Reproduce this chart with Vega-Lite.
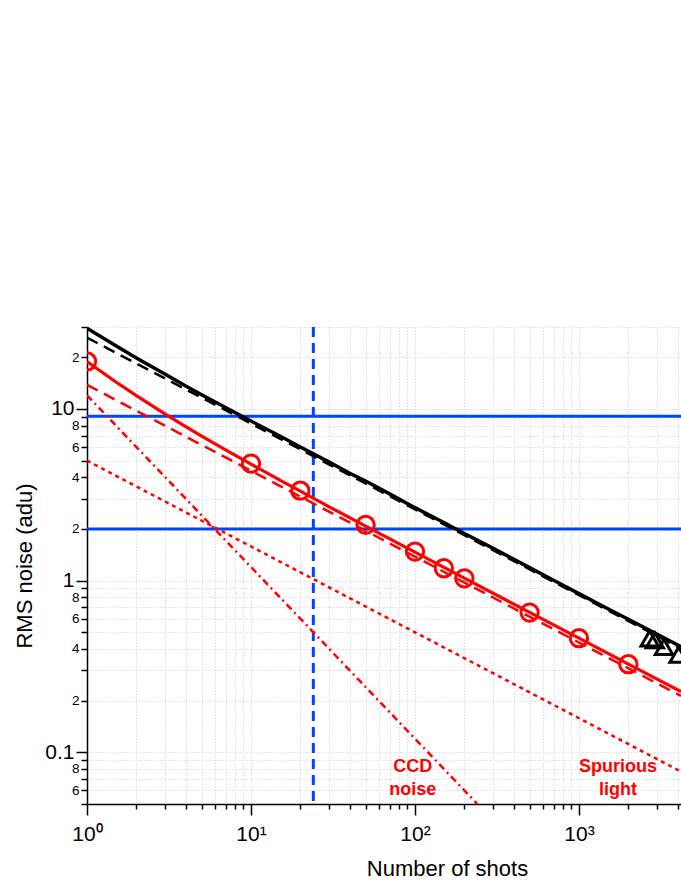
{
  "$schema": "https://vega.github.io/schema/vega-lite/v6.json",
  "width": 594,
  "height": 477,
  "autosize": "none",
  "padding": {"left": 87, "top": 327, "right": 0, "bottom": 77},
  "background": "white",
  "config": {
    "view": {"stroke": null},
    "font": "Liberation Sans",
    "axis": {"labelFont": "Liberation Sans", "titleFont": "Liberation Sans", "labelColor": "black", "titleColor": "black"}
  },
  "datasets": {
    "lines": [
      {"series": "total", "N": 1, "v": 29.5},
      {"series": "total", "N": 1.5, "v": 23.3},
      {"series": "total", "N": 2, "v": 19.8},
      {"series": "total", "N": 3, "v": 15.9},
      {"series": "total", "N": 4, "v": 13.6},
      {"series": "total", "N": 5, "v": 12.1},
      {"series": "total", "N": 7, "v": 10.2},
      {"series": "total", "N": 10, "v": 8.5},
      {"series": "total", "N": 15, "v": 6.95},
      {"series": "total", "N": 20, "v": 6.0},
      {"series": "total", "N": 30, "v": 4.9},
      {"series": "total", "N": 40, "v": 4.22},
      {"series": "total", "N": 50, "v": 3.8},
      {"series": "total", "N": 70, "v": 3.2},
      {"series": "total", "N": 100, "v": 2.66},
      {"series": "total", "N": 150, "v": 2.18},
      {"series": "total", "N": 200, "v": 1.88},
      {"series": "total", "N": 300, "v": 1.54},
      {"series": "total", "N": 500, "v": 1.19},
      {"series": "total", "N": 700, "v": 1.005},
      {"series": "total", "N": 1000, "v": 0.84},
      {"series": "total", "N": 1500, "v": 0.686},
      {"series": "total", "N": 2000, "v": 0.596},
      {"series": "total", "N": 3000, "v": 0.487},
      {"series": "total", "N": 4190, "v": 0.412},
      {"series": "totalfit", "N": 1, "v": 26},
      {"series": "totalfit", "N": 4190, "v": 0.402},
      {"series": "model", "N": 1, "v": 18.9},
      {"series": "model", "N": 1.5, "v": 14.35},
      {"series": "model", "N": 2, "v": 11.94},
      {"series": "model", "N": 3, "v": 9.33},
      {"series": "model", "N": 4, "v": 7.89},
      {"series": "model", "N": 5, "v": 6.95},
      {"series": "model", "N": 7, "v": 5.78},
      {"series": "model", "N": 10, "v": 4.77},
      {"series": "model", "N": 15, "v": 3.85},
      {"series": "model", "N": 20, "v": 3.32},
      {"series": "model", "N": 30, "v": 2.69},
      {"series": "model", "N": 50, "v": 2.078},
      {"series": "model", "N": 100, "v": 1.465},
      {"series": "model", "N": 200, "v": 1.033},
      {"series": "model", "N": 500, "v": 0.653},
      {"series": "model", "N": 1000, "v": 0.462},
      {"series": "model", "N": 2000, "v": 0.3264},
      {"series": "model", "N": 4190, "v": 0.2255},
      {"series": "modelfit", "N": 1, "v": 13.8},
      {"series": "modelfit", "N": 4190, "v": 0.213},
      {"series": "ccd", "N": 1, "v": 12},
      {"series": "ccd", "N": 240, "v": 0.05},
      {"series": "spurious", "N": 1, "v": 5},
      {"series": "spurious", "N": 4190, "v": 0.0772}
    ],
    "circles": [
      {"N": 1, "v": 18.9},
      {"N": 10, "v": 4.8},
      {"N": 20, "v": 3.34},
      {"N": 50, "v": 2.11},
      {"N": 100, "v": 1.476},
      {"N": 150, "v": 1.18},
      {"N": 200, "v": 1.03},
      {"N": 500, "v": 0.651},
      {"N": 1000, "v": 0.462},
      {"N": 2000, "v": 0.326}
    ],
    "triangles": [
      {"N": 2700, "v": 0.46},
      {"N": 2900, "v": 0.45},
      {"N": 3300, "v": 0.41},
      {"N": 4050, "v": 0.37}
    ],
    "hlines": [{"v": 9.05}, {"v": 2}],
    "vlines": [{"N": 24}],
    "labels": [
      {"N": 97, "v": 0.0822, "t": "CCD"},
      {"N": 97, "v": 0.0604, "t": "noise"},
      {"N": 1730, "v": 0.0822, "t": "Spurious"},
      {"N": 1730, "v": 0.0604, "t": "light"}
    ]
  },
  "layer": [
    {
      "data": {"name": "hlines"},
      "mark": {"type": "rule", "color": "#0044ff", "strokeWidth": 3},
      "encoding": {
        "y": {
          "field": "v", "type": "quantitative",
          "scale": {"type": "log", "domain": [0.05, 30], "nice": false},
          "axis": {
            "values": [0.05,0.06,0.07,0.08,0.09,0.1,0.2,0.3,0.4,0.5,0.6,0.7,0.8,0.9,1,2,3,4,5,6,7,8,9,10,20,30],
            "labelExpr": "abs(log(datum.value)/LN10 - round(log(datum.value)/LN10)) < 0.001 ? (datum.value >= 10 ? '10' : datum.value >= 1 ? '1' : '0.1') : (indexof([2,4,6,8], round(datum.value / pow(10, floor(log(datum.value)/LN10 + 0.000001)))) >= 0 ? '' + round(datum.value / pow(10, floor(log(datum.value)/LN10 + 0.000001))) : '')",
            "labelOverlap": false,
            "labelFlush": false,
            "labelFontSize": {"condition": {"test": "abs(log(datum.value)/LN10 - round(log(datum.value)/LN10)) < 0.001", "value": 21}, "value": 13.5},
            "tickSize": {"condition": {"test": "abs(log(datum.value)/LN10 - round(log(datum.value)/LN10)) < 0.001", "value": 11}, "value": 6},
            "labelPadding": 2,
            "tickColor": "black",
            "tickWidth": 1.5,
            "domainColor": "black",
            "domainWidth": 1.5,
            "grid": true,
            "gridColor": "#dedede",
            "gridDash": [1.5, 1.5],
            "gridWidth": 1,
            "title": "RMS noise (adu)",
            "titleFontSize": 22,
            "titleFontWeight": "normal",
            "titlePadding": 8
          }
        }
      }
    },
    {
      "data": {"name": "vlines"},
      "mark": {"type": "rule", "color": "#0044ff", "strokeWidth": 3, "strokeDash": [10, 6]},
      "encoding": {
        "x": {
          "field": "N", "type": "quantitative",
          "scale": {"type": "log", "domain": [1, 4190], "nice": false},
          "axis": {
            "values": [1,2,3,4,5,6,7,8,9,10,20,30,40,50,60,70,80,90,100,200,300,400,500,600,700,800,900,1000,2000,3000,4000],
            "labelExpr": "abs(log(datum.value)/LN10 - round(log(datum.value)/LN10)) < 0.001 ? '10' + (round(log(datum.value)/LN10) == 0 ? '⁰' : round(log(datum.value)/LN10) == 1 ? '¹' : round(log(datum.value)/LN10) == 2 ? '²' : '³') : ''",
            "labelOverlap": false,
            "labelFlush": false,
            "labelFontSize": 21,
            "tickSize": {"condition": {"test": "abs(log(datum.value)/LN10 - round(log(datum.value)/LN10)) < 0.001", "value": 11}, "value": 5},
            "labelPadding": 8,
            "tickColor": "black",
            "tickWidth": 1.5,
            "domainColor": "black",
            "domainWidth": 1.5,
            "grid": true,
            "gridColor": "#dedede",
            "gridDash": [1.5, 1.5],
            "gridWidth": 1,
            "title": "Number of shots",
            "titleFontSize": 22,
            "titleFontWeight": "normal",
            "titleX": 360,
            "titleY": 71,
            "titleBaseline": "alphabetic"
          }
        }
      }
    },
    {
      "mark": {"type": "rule", "color": "black", "strokeWidth": 1.5},
      "encoding": {"y": {"datum": 30}}
    },
    {
      "data": {"name": "lines"},
      "transform": [{"filter": "datum.series == 'spurious'"}],
      "mark": {"type": "line", "color": "#ff0000", "strokeWidth": 2.5, "strokeDash": [4, 4], "clip": true},
      "encoding": {"x": {"field": "N", "type": "quantitative"}, "y": {"field": "v", "type": "quantitative"}}
    },
    {
      "data": {"name": "lines"},
      "transform": [{"filter": "datum.series == 'ccd'"}],
      "mark": {"type": "line", "color": "#ff0000", "strokeWidth": 2.5, "strokeDash": [7, 4, 2, 4], "clip": true},
      "encoding": {"x": {"field": "N", "type": "quantitative"}, "y": {"field": "v", "type": "quantitative"}}
    },
    {
      "data": {"name": "lines"},
      "transform": [{"filter": "datum.series == 'modelfit'"}],
      "mark": {"type": "line", "color": "#ff0000", "strokeWidth": 2.5, "strokeDash": [12, 7], "clip": true},
      "encoding": {"x": {"field": "N", "type": "quantitative"}, "y": {"field": "v", "type": "quantitative"}}
    },
    {
      "data": {"name": "lines"},
      "transform": [{"filter": "datum.series == 'model'"}],
      "mark": {"type": "line", "color": "#ff0000", "strokeWidth": 3.2, "clip": true},
      "encoding": {"x": {"field": "N", "type": "quantitative"}, "y": {"field": "v", "type": "quantitative"}}
    },
    {
      "data": {"name": "lines"},
      "transform": [{"filter": "datum.series == 'totalfit'"}],
      "mark": {"type": "line", "color": "black", "strokeWidth": 2.5, "strokeDash": [12, 7], "clip": true},
      "encoding": {"x": {"field": "N", "type": "quantitative"}, "y": {"field": "v", "type": "quantitative"}}
    },
    {
      "data": {"name": "lines"},
      "transform": [{"filter": "datum.series == 'total'"}],
      "mark": {"type": "line", "color": "black", "strokeWidth": 3.5, "clip": true},
      "encoding": {"x": {"field": "N", "type": "quantitative"}, "y": {"field": "v", "type": "quantitative"}}
    },
    {
      "data": {"name": "circles"},
      "mark": {"type": "point", "shape": "circle", "filled": false, "color": "#ff0000", "strokeWidth": 3, "size": 300, "opacity": 1, "clip": true},
      "encoding": {"x": {"field": "N", "type": "quantitative"}, "y": {"field": "v", "type": "quantitative"}}
    },
    {
      "data": {"name": "triangles"},
      "mark": {"type": "point", "shape": "triangle-up", "filled": false, "color": "black", "strokeWidth": 3, "size": 300, "opacity": 1, "clip": true},
      "encoding": {"x": {"field": "N", "type": "quantitative"}, "y": {"field": "v", "type": "quantitative"}}
    },
    {
      "data": {"name": "labels"},
      "mark": {"type": "text", "color": "#ff0000", "fontSize": 18, "fontWeight": "bold", "align": "center", "baseline": "middle", "font": "Liberation Sans"},
      "encoding": {"x": {"field": "N", "type": "quantitative"}, "y": {"field": "v", "type": "quantitative"}, "text": {"field": "t"}}
    }
  ]
}
